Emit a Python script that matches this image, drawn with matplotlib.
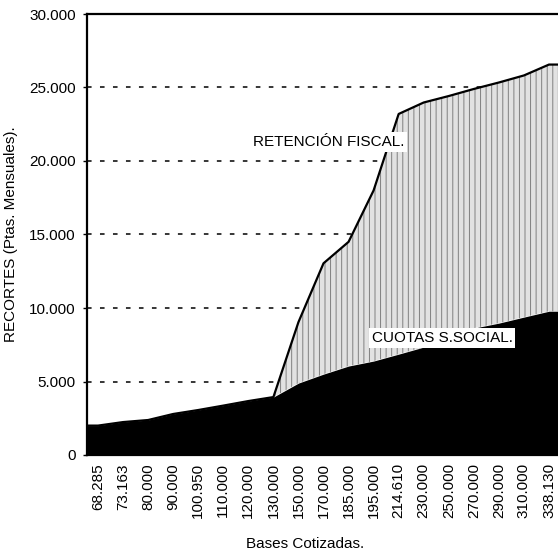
import matplotlib
matplotlib.use("Agg")
import matplotlib.pyplot as plt
import numpy as np

plt.rcParams['font.family'] = ['Liberation Sans', 'DejaVu Sans']
plt.rcParams['hatch.linewidth'] = 0.7

bases = ['68.285', '73.163', '80.000', '90.000', '100.950', '110.000', '120.000',
         '130.000', '150.000', '170.000', '185.000', '195.000', '214.610',
         '230.000', '250.000', '270.000', '290.000', '310.000', '338.130']
cuotas_ss = [2000, 2240, 2380, 2790, 3060, 3360, 3670, 3940, 4890, 5500,
             6050, 6390, 6860, 7340, 7810, 8630, 8970, 9380, 9780]
retencion = [0, 0, 0, 0, 0, 0, 0, 0, 4150, 7540,
             8450, 11610, 16340, 16640, 16610, 16270, 16370, 16440, 16780]
yticks = [0, 5000, 10000, 15000, 20000, 25000, 30000]

fig = plt.figure(figsize=(5.58, 5.56), dpi=100)
ax = fig.add_axes([87/558, 1-455/556, 1-87/558, 441/556])

x0, x1 = -0.44, 18.36
idx = np.arange(len(bases))
xs = np.r_[x0, idx, x1]
ss = np.pad(np.array(cuotas_ss, float), 1, mode='edge')
total = np.pad(np.array(cuotas_ss, float) + np.array(retencion, float), 1, mode='edge')

ax.fill_between(xs, 0, ss, color='black', lw=0, zorder=3)
ax.fill_between(xs, ss, total, facecolor='#e2e2e2', edgecolor='#808080',
                hatch='|||', lw=0, zorder=2)
ax.plot(xs, total, color='black', lw=1.6, zorder=4)

ax.set_xlim(x0, x1)
ax.set_ylim(0, 30000)
ax.set_yticks(yticks)
ax.set_yticklabels(['0' if v == 0 else f'{v:,}'.replace(',', '.') for v in yticks],
                   fontsize=11)
ax.set_xticks(idx)
ax.set_xticklabels(bases, rotation=90, fontsize=11)
ax.tick_params(axis='x', length=0, pad=6)
ax.tick_params(axis='y', length=3, width=1, pad=5, direction='out')

ax.yaxis.grid(True, color='black', lw=1.1, linestyle=(0, (3, 5.5)))
ax.set_axisbelow(True)
for s in ['left', 'top', 'bottom']:
    ax.spines[s].set_linewidth(1.6)
ax.spines['right'].set_visible(False)

ax.set_ylabel('RECORTES (Ptas. Mensuales).', fontsize=11, labelpad=8)
ax.set_xlabel('Bases Cotizadas.', fontsize=11)
ax.xaxis.set_label_coords(0.463, -0.185)

box = dict(facecolor='white', edgecolor='none', pad=2)
ax.text(9.22, 21300, 'RETENCIÓN FISCAL.', fontsize=11, ha='center', va='center',
        bbox=box, zorder=5)
ax.text(13.73, 7960, 'CUOTAS S.SOCIAL.', fontsize=11, ha='center', va='center',
        bbox=box, zorder=5)

fig.savefig('out.png', dpi=100)
